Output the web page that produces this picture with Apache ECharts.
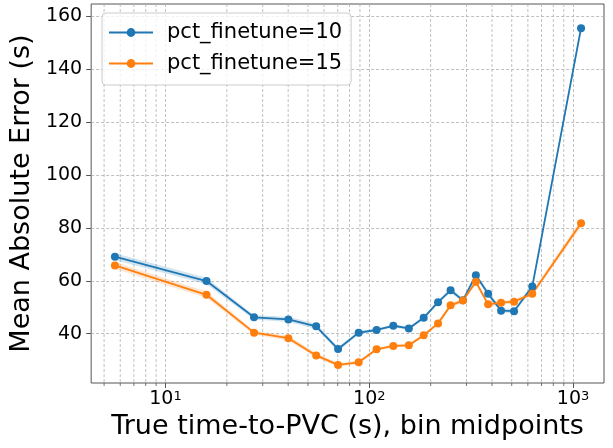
<!DOCTYPE html>
<html>
<head>
<meta charset="utf-8">
<script src="https://cdn.jsdelivr.net/npm/echarts@6/dist/echarts.min.js"></script>
<style>
  html, body { margin: 0; padding: 0; background: #fff; }
  #chart { width: 613px; height: 448px; }
</style>
</head>
<body>
<div id="chart"></div>
<script>
// Bin midpoints of the true time-to-PVC (seconds)
const binMidpoints = [5.65, 15.9, 27.2, 40.1, 54.9, 70.3, 88.7, 108.6, 131.2, 156.3,
  184.9, 217.5, 250.6, 288.1, 333.4, 383, 443.3, 513.2, 630.6, 1094];
// Mean absolute error per bin (seconds)
const maeFinetune10 = [69.1, 59.9, 46.2, 45.4, 42.8, 34.2, 40.4, 41.4, 43.0, 42.0,
  46.0, 51.9, 56.4, 52.6, 62.1, 55.1, 48.7, 48.5, 57.8, 155.4];
const maeFinetune15 = [65.8, 54.7, 40.4, 38.3, 31.8, 28.2, 29.2, 34.1, 35.4, 35.6,
  39.4, 43.9, 50.7, 52.5, 59.6, 51.1, 51.7, 52.1, 55.1, 81.7];
// Half-width of the shaded uncertainty band around each mean
const ciFinetune10 = [1.3, 1.2, 0.8, 1.0, 1.0, 0.8, 0.7, 0.6, 0.6, 0.6,
  0.6, 0.7, 0.8, 0.8, 0.9, 0.9, 0.8, 0.8, 1.0, 1.5];
const ciFinetune15 = [1.3, 1.2, 0.8, 0.9, 0.9, 0.7, 0.7, 0.6, 0.6, 0.6,
  0.6, 0.7, 0.8, 0.8, 0.9, 0.9, 0.8, 0.8, 1.0, 1.5];

const seriesNames = ['pct_finetune=10', 'pct_finetune=15'];
const yTicks = [40, 60, 80, 100, 120, 140, 160];
const xMajorTicks = [10, 100, 1000];
const xMinorTicks = [5, 6, 7, 8, 9, 20, 30, 40, 50, 60, 70, 80, 90,
  200, 300, 400, 500, 600, 700, 800, 900];

const X_MIN = 4.32, X_MAX = 1418;
const Y_MIN = 21.38, Y_MAX = 164.53;

const COLORS = ['#1f77b4', '#ff7f0e'];
const BAND_COLORS = ['rgba(31,119,180,0.2)', 'rgba(255,127,14,0.2)'];
const GRID_COLOR = '#b0b0b0';
const SPINE_COLOR = '#555';
const FONT = 'DejaVu Sans';

function pairs(xs, ys) { return xs.map((x, i) => [x, ys[i]]); }

// Shaded band (mean ± half-width) drawn as one polygon in data coordinates
function bandSeries(idx, means, ci) {
  const rows = binMidpoints.map((x, i) => [x, means[i] - ci[i], means[i] + ci[i]]);
  return {
    type: 'custom', name: 'band_' + idx, silent: true, z: 2, clip: true,
    data: [[binMidpoints[0], means[0]]],
    encode: { x: 0, y: 1 },
    renderItem: function (params, api) {
      const upper = rows.map(r => api.coord([r[0], r[2]]));
      const lower = rows.map(r => api.coord([r[0], r[1]])).reverse();
      return {
        type: 'polygon',
        shape: { points: upper.concat(lower) },
        style: { fill: BAND_COLORS[idx], stroke: 'none' }
      };
    }
  };
}

function mainSeries(idx, means) {
  return {
    type: 'line', name: seriesNames[idx],
    data: pairs(binMidpoints, means),
    symbol: 'circle', symbolSize: 8,
    itemStyle: { color: COLORS[idx] },
    lineStyle: { color: COLORS[idx], width: 1.8 },
    emphasis: { disabled: true },
    z: 4
  };
}

// Minor log-scale gridlines and ticks (2..9 x 10^k)
const minorGrid = {
  type: 'custom', name: 'minor', silent: true, z: 1, clip: false,
  data: xMinorTicks.map(v => [v, Y_MIN]),
  encode: { x: 0, y: 1 },
  renderItem: function (params, api) {
    const v = api.value(0);
    const top = api.coord([v, Y_MAX]);
    const bot = api.coord([v, Y_MIN]);
    return {
      type: 'group',
      children: [
        { type: 'line', shape: { x1: top[0], y1: top[1], x2: bot[0], y2: bot[1] },
          style: { stroke: GRID_COLOR, lineWidth: 0.8, lineDash: [3, 2] } },
        { type: 'line', shape: { x1: bot[0], y1: bot[1], x2: bot[0], y2: bot[1] + 3 },
          style: { stroke: SPINE_COLOR, lineWidth: 0.8 } }
      ]
    };
  }
};

const chart = echarts.init(document.getElementById('chart'), null, { renderer: 'canvas' });
chart.setOption({
  animation: false,
  textStyle: { fontFamily: FONT },
  grid: {
    left: 89, right: 9, top: 4, bottom: 65,
    show: true, borderColor: SPINE_COLOR, borderWidth: 1, backgroundColor: 'transparent'
  },
  legend: {
    data: seriesNames,
    orient: 'vertical',
    left: 102, top: 13,
    itemWidth: 44, itemHeight: 11, itemGap: 6,
    padding: [7, 9, 9, 6],
    backgroundColor: 'rgba(255,255,255,0.8)',
    borderColor: '#cccccc', borderWidth: 1, borderRadius: 4,
    textStyle: { fontSize: 21, color: '#000', fontFamily: FONT, lineHeight: 25, padding: [0, 0, 0, 9] }
  },
  xAxis: {
    type: 'log', logBase: 10, min: X_MIN, max: X_MAX,
    name: 'True time-to-PVC (s), bin midpoints',
    nameLocation: 'middle', nameGap: 28,
    nameTextStyle: { fontSize: 27, color: '#000', fontFamily: FONT },
    axisLine: { show: false },
    axisTick: { show: true, length: 5, lineStyle: { color: SPINE_COLOR }, customValues: xMajorTicks },
    axisLabel: {
      customValues: xMajorTicks,
      margin: 7, color: '#000', fontSize: 19, fontFamily: FONT,
      formatter: v => '10{sup|' + Math.round(Math.log10(v)) + '}',
      rich: { sup: { fontSize: 13, verticalAlign: 'top', color: '#000', fontFamily: FONT } }
    },
    splitLine: { show: true, lineStyle: { color: GRID_COLOR, width: 0.8, type: [3, 2] } }
  },
  yAxis: {
    type: 'value', min: Y_MIN, max: Y_MAX, splitNumber: 7,
    name: 'Mean Absolute Error (s)',
    nameLocation: 'middle', nameGap: 52,
    nameTextStyle: { fontSize: 27, color: '#000', fontFamily: FONT },
    axisLine: { show: false },
    axisTick: { show: true, length: 5, lineStyle: { color: SPINE_COLOR }, customValues: yTicks },
    axisLabel: { customValues: yTicks, margin: 9, color: '#000', fontSize: 19, fontFamily: FONT },
    splitLine: { show: true, lineStyle: { color: GRID_COLOR, width: 0.8, type: [3, 2] } }
  },
  series: [
    minorGrid,
    bandSeries(0, maeFinetune10, ciFinetune10),
    bandSeries(1, maeFinetune15, ciFinetune15),
    mainSeries(0, maeFinetune10),
    mainSeries(1, maeFinetune15)
  ]
});
</script>
</body>
</html>
